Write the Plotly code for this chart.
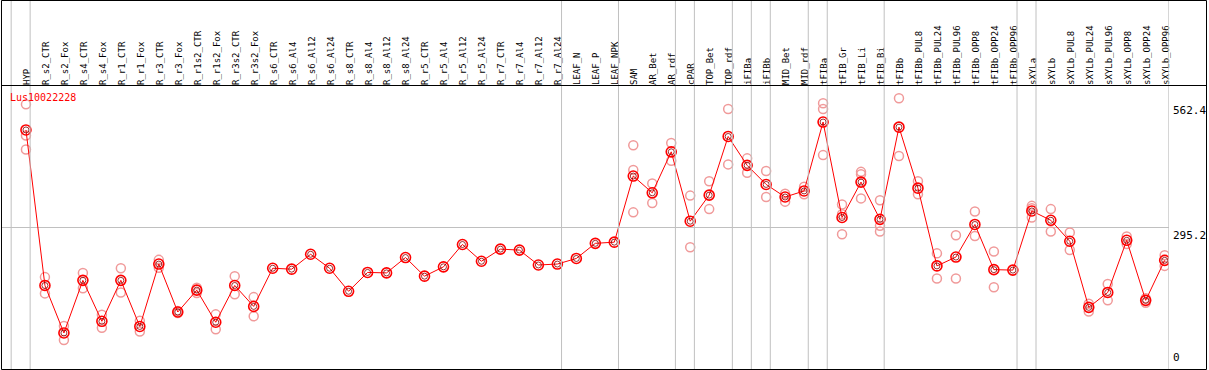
import plotly.graph_objects as go

categories = [
    "HYP", "R_s2_CTR", "R_s2_Fox", "R_s4_CTR", "R_s4_Fox", "R_r1_CTR", "R_r1_Fox",
    "R_r3_CTR", "R_r3_Fox", "R_r1s2_CTR", "R_r1s2_Fox", "R_r3s2_CTR", "R_r3s2_Fox",
    "R_s6_CTR", "R_s6_Al4", "R_s6_Al12", "R_s6_Al24", "R_s8_CTR", "R_s8_Al4",
    "R_s8_Al12", "R_s8_Al24", "R_r5_CTR", "R_r5_Al4", "R_r5_Al12", "R_r5_Al24",
    "R_r7_CTR", "R_r7_Al4", "R_r7_Al12", "R_r7_Al24", "LEAF_N", "LEAF_P", "LEAF_NPK",
    "SAM", "AR_Bet", "AR_rdf", "cPAR", "TOP_Bet", "TOP_rdf", "iFIBa", "iFIBb",
    "MID_Bet", "MID_rdf", "tFIBa", "tFIB_Gr", "tFIB_Li", "tFIB_Bi", "tFIBb",
    "tFIBb_PUL8", "tFIBb_PUL24", "tFIBb_PUL96", "tFIBb_OPP8", "tFIBb_OPP24", "tFIBb_OPP96",
    "sXYLa", "sXYLb", "sXYLb_PUL8", "sXYLb_PUL24", "sXYLb_PUL96", "sXYLb_OPP8",
    "sXYLb_OPP24", "sXYLb_OPP96",
]

means = [
    505, 171, 69, 182, 94, 182, 83, 217, 114, 161, 92, 171, 126,
    208, 206, 238, 208, 158.5, 199, 198, 231, 191, 211, 259, 223,
    249, 247, 215, 217, 229, 261.5, 264,
    406, 370, 458, 309, 365, 491, 429, 388, 361, 374, 522, 317, 393, 313, 511,
    380, 213, 232, 302, 205, 204,
    331, 311, 266, 124, 156, 268, 139, 225,
]

replicates = [
    [560, 493, 463], [189, 154], [84, 54], [198, 165], [108, 80], [208, 156], [95, 72],
    [226, 209], [116, 112], [166, 155], [109, 77], [191, 152], [146, 105],
    [], [], [], [], [], [], [], [], [], [], [], [], [], [], [], [], [], [], [],
    [472, 419, 328], [390, 348], [477, 439], [364, 253], [395, 335], [550, 431],
    [444, 413], [417, 361], [368, 351], [383, 367], [562.4, 550, 451],
    [345, 324, 281], [415, 410, 358], [354, 299, 287], [573, 449],
    [395, 367], [240, 186], [279, 186], [330, 277], [244, 167], [],
    [342, 337, 317], [335, 287], [285, 247], [132, 115], [174, 139], [276, 260],
    [143.5, 134], [236, 213],
]

group_ends = [None, "HYP", "R_r7_Al24", "LEAF_NPK", "AR_rdf", "cPAR", "TOP_rdf", "iFIBa",
              "iFIBb", "MID_rdf", "tFIBa", "tFIB_Bi", "tFIBb_OPP96", "sXYLa", "sXYLb_OPP96"]

y_ticks = [0, 295.2, 562.4]
gene_label = "Lus10022228"

W, H = 1209, 370
FONT = "DejaVu Sans Mono"
xs = list(range(len(categories)))

rx, ry = [], []
for i, reps in enumerate(replicates):
    for v in reps:
        rx.append(i)
        ry.append(v)

fig = go.Figure()
fig.add_trace(go.Scatter(
    x=rx, y=ry, mode="markers",
    marker=dict(symbol="circle-open", size=9, color="#f09a9a", line=dict(width=1.5, color="#f09a9a")),
    hoverinfo="skip",
))
fig.add_trace(go.Scatter(
    x=xs, y=means, mode="lines+markers",
    line=dict(color="#ff0000", width=1),
    marker=dict(symbol="circle-open", size=10, color="#ff0000", line=dict(width=1.6, color="#ff0000")),
))
fig.add_trace(go.Scatter(
    x=xs, y=means, mode="markers",
    marker=dict(symbol="circle-open", size=6, color="#800000", line=dict(width=0.8, color="#800000")),
    hoverinfo="skip",
))

shapes = []
for name in group_ends:
    idx = -1 if name is None else categories.index(name)
    shapes.append(dict(type="line", xref="x", yref="paper", x0=idx + 0.22, x1=idx + 0.22,
                       y0=1 / H, y1=1, line=dict(color="#c0c0c0", width=1)))
# frame and header divider
shapes.append(dict(type="rect", xref="paper", yref="paper", x0=1.5 / W, x1=1208.5 / W,
                   y0=1 - 369.5 / H, y1=1 - 0.5 / H, line=dict(color="black", width=1)))
shapes.append(dict(type="line", xref="paper", yref="paper", x0=1.5 / W, x1=1208.5 / W,
                   y0=1 - 85.5 / H, y1=1 - 85.5 / H, line=dict(color="black", width=1)))

annotations = []
for v in y_ticks:
    annotations.append(dict(
        xref="paper", yref="y", x=1174 / W, y=v, text=f"{v:g}", showarrow=False,
        xanchor="left", yanchor="bottom" if v == 0 else "top",
        font=dict(family=FONT, size=11, color="black"), borderpad=0,
    ))
annotations.append(dict(
    xref="paper", yref="paper", x=9 / W, y=1 - 97 / H, text=gene_label, showarrow=False,
    xanchor="left", yanchor="middle", font=dict(family=FONT, size=10, color="#ff0000"), borderpad=0,
))

fig.update_layout(
    width=W, height=H, margin=dict(l=0, r=0, t=0, b=0),
    paper_bgcolor="white", plot_bgcolor="white", showlegend=False,
    shapes=shapes, annotations=annotations,
    xaxis=dict(domain=[2 / W, 1171 / W], range=[-1.2625, 60.231], side="top",
               tickmode="array", tickvals=xs, ticktext=categories, tickangle=-90,
               tickfont=dict(family=FONT, size=9, color="black"), ticklabelshift=1,
               showgrid=False, zeroline=False, showline=False, ticks=""),
    yaxis=dict(domain=[1 - 369 / H, 1 - 86 / H], range=[-8.4, 599.4],
               tickmode="array", tickvals=[295.2], showticklabels=False,
               gridcolor="#c0c0c0", gridwidth=1, zeroline=False, showline=False),
)

fig.write_html(
    "out.html",
    config={"displayModeBar": False},
    post_script="document.body.style.margin='0';document.body.style.padding='0';",
)
